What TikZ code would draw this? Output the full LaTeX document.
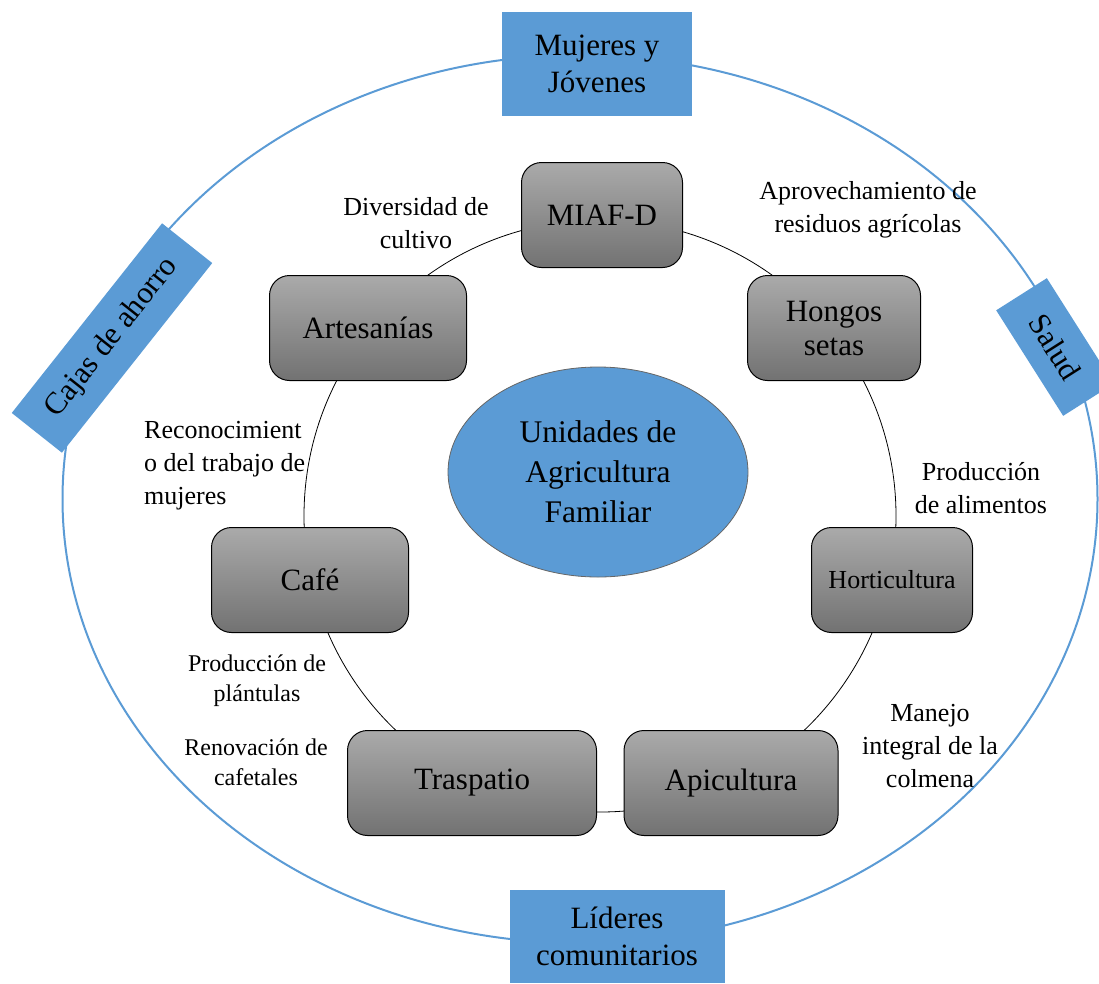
\documentclass[tikz,border=0pt]{standalone}
\usepackage{fontspec}
\setmainfont{Liberation Serif}
\usepackage{tikz}
\usetikzlibrary{shapes.geometric, positioning}
\definecolor{blueBox}{RGB}{91,155,213}
\definecolor{grayTop}{RGB}{170,170,170}
\definecolor{grayBottom}{RGB}{114,114,114}
\tikzstyle{activity} = [rectangle, rounded corners=20pt, minimum height=105pt, draw=black, line width=1pt, top color=grayTop, bottom color=grayBottom, align=center, font=\fontsize{31}{34}\selectfont]
\tikzstyle{actor} = [rectangle, fill=blueBox, align=center, inner sep=0pt, font=\fontsize{31}{37}\selectfont]
\tikzstyle{note} = [align=center, inner sep=0pt, font=\fontsize{26}{33}\selectfont]
\tikzstyle{smallNote} = [align=center, inner sep=0pt, font=\fontsize{24}{30}\selectfont]

\begin{document}
\begin{tikzpicture}[x=1pt, y=-1pt]
                                \useasboundingbox (0,0) rectangle (1099,983);
                                \clip (0,0) rectangle (1099,983);
                                \node (outer) [ellipse, draw=blueBox, line width=2pt, minimum width=1035pt, minimum height=888pt] at (580,499) {};
                                \node (ring) [circle, draw=black, line width=0.8pt, minimum size=592pt] at (600,516) {};
                                \node (uaf) [ellipse, fill=blueBox, draw=black!60, line width=0.8pt, minimum width=300pt, minimum height=210pt, align=center, font=\fontsize{31.5}{40}\selectfont] at (598,472) {Unidades de\\Agricultura\\Familiar};
                                \node (miaf) [activity, minimum width=161pt] at (602,215) {MIAF-D};
                                \node (hongos) [activity, minimum width=173pt] at (834,328) {Hongos\\setas};
                                \node (arte) [activity, minimum width=197pt] at (368,328) {Artesanías};
                                \node (cafe) [activity, minimum width=197pt] at (310,580) {Café};
                                \node (horti) [activity, minimum width=161pt, font=\fontsize{26}{30}\selectfont] at (892,580) {Horticultura};
                                \node (traspatio) [activity, minimum width=249pt] at (472,783) {Traspatio};
                                \node (apicultura) [activity, minimum width=214pt] at (731,783) {Apicultura};
                                \node (mujeres) [actor, minimum width=190pt, minimum height=104pt] at (597,64) {Mujeres y\\Jóvenes};
                                \node (lideres) [actor, minimum width=215pt, minimum height=93pt] at (617,936) {Líderes\\comunitarios};
                                \node (cajas) [actor, rotate=51.6, minimum width=242pt, minimum height=64pt] at (112,338) {Cajas de ahorro};
                                \node (salud) [actor, rotate=-57.6, minimum width=125pt, minimum height=60pt] at (1055,347) {Salud};
                                \node (diversidad) [note] at (416,223) {Diversidad de\\cultivo};
                                \node (residuos) [note] at (868,210) {Aprovechamiento de\\residuos agrícolas};
                                \node (reconoce) [note, align=left, anchor=west] at (144,466) {Reconocimient\\o del trabajo de\\mujeres};
                                \node (alimentos) [note] at (981,488) {Producción\\de alimentos};
                                \node (plantulas) [smallNote] at (257,681) {Producción de\\plántulas};
                                \node (cafetales) [smallNote] at (256,762) {Renovación de\\cafetales};
                                \node (colmena) [note] at (930,746) {Manejo\\integral de la\\colmena};
                            \end{tikzpicture}
\end{document}
